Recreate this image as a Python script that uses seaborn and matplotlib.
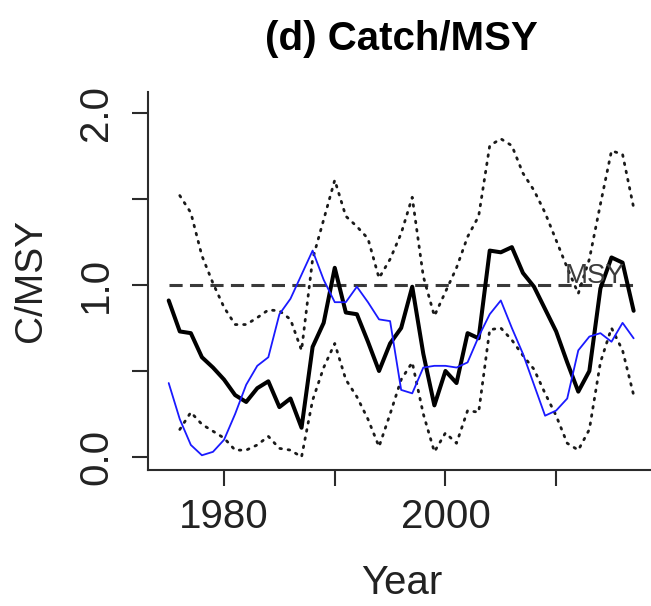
import numpy as np
import pandas as pd
import matplotlib
matplotlib.use("Agg")
import matplotlib.pyplot as plt
import seaborn as sns

# ---- data -------------------------------------------------------------
years = list(range(1975, 2018))
ci_years = list(range(1976, 2018))

# median catch / MSY (thick black)
catch_msy = [0.91, 0.73, 0.72, 0.58, 0.52, 0.45, 0.36, 0.32, 0.40, 0.44,
             0.29, 0.34, 0.17, 0.64, 0.78, 1.10, 0.84, 0.83, 0.67, 0.50,
             0.66, 0.75, 0.99, 0.60, 0.30, 0.50, 0.43, 0.72, 0.69, 1.20,
             1.19, 1.22, 1.07, 0.99, 0.86, 0.73, 0.55, 0.38, 0.50, 0.98,
             1.16, 1.13, 0.85]

# alternative estimate (blue)
catch_msy_alt = [0.43, 0.22, 0.07, 0.01, 0.03, 0.10, 0.25, 0.42, 0.53, 0.58,
                 0.83, 0.92, 1.06, 1.20, 1.03, 0.90, 0.90, 0.99, 0.90, 0.80,
                 0.79, 0.39, 0.37, 0.52, 0.53, 0.53, 0.52, 0.55, 0.70, 0.83,
                 0.91, 0.75, 0.60, 0.42, 0.24, 0.27, 0.34, 0.62, 0.70, 0.72,
                 0.67, 0.78, 0.69]

# confidence bounds (dotted)
ci_upper = [1.52, 1.42, 1.17, 1.01, 0.87, 0.77, 0.77, 0.81, 0.855, 0.85,
            0.80, 0.62, 1.15, 1.38, 1.61, 1.40, 1.34, 1.27, 1.04, 1.15,
            1.30, 1.51, 1.05, 0.82, 0.96, 1.10, 1.28, 1.40, 1.81, 1.85,
            1.81, 1.65, 1.55, 1.42, 1.26, 1.10, 0.95, 1.15, 1.47, 1.78,
            1.76, 1.45]
ci_lower = [0.16, 0.26, 0.19, 0.15, 0.11, 0.04, 0.04, 0.07, 0.12, 0.05,
            0.04, 0.00, 0.33, 0.52, 0.66, 0.45, 0.35, 0.22, 0.06, 0.25,
            0.45, 0.55, 0.25, 0.03, 0.14, 0.08, 0.27, 0.26, 0.74, 0.75,
            0.68, 0.59, 0.51, 0.37, 0.24, 0.08, 0.04, 0.16, 0.55, 0.75,
            0.62, 0.36]

msy_level = 1.0
msy_line = [msy_level] * len(years)

y_ticks = [0.0, 0.5, 1.0, 1.5, 2.0]
y_ticklabels = ["0.0", "", "1.0", "", "2.0"]
x_ticks = [1980, 1990, 2000, 2010]
x_ticklabels = ["1980", "", "2000", ""]

# ---- style ------------------------------------------------------------
sns.set_style("ticks")
plt.rcParams["font.family"] = ["Liberation Sans", "DejaVu Sans"]

DPI = 100
W, H = 651, 606
fig = plt.figure(figsize=(W / DPI, H / DPI), dpi=DPI)
fig.patch.set_facecolor("white")

# plot region in pixels: left 148, right 655, top 92, bottom 470
L, R, T, B = 148, 655, 92, 470
ax = fig.add_axes([L / W, (H - B) / H, (R - L) / W, (B - T) / H])
ax.set_facecolor("white")

ink = "#2b2b2b"

# MSY reference
sns.lineplot(x=years, y=msy_line, ax=ax, color="#3a3a3a", linewidth=2.2)
ax.lines[-1].set_dashes((4.3, 2.4))

# median
sns.lineplot(x=years, y=catch_msy, ax=ax, color="black", linewidth=2.9)

# bounds
for bound in (ci_upper, ci_lower):
    sns.lineplot(x=ci_years, y=bound, ax=ax, color="#1a1a1a", linewidth=2.0)
    ln = ax.lines[-1]
    ln.set_dashes((0.6, 2.4))
    ln.set_dash_capstyle("round")

# alternative series
sns.lineplot(x=years, y=catch_msy_alt, ax=ax, color="#1a1aff", linewidth=1.3)

ax.text(2013.5, 1.01, "MSY", fontsize=20, color="#3c3c3c",
        ha="center", va="baseline")

# ---- axes -------------------------------------------------------------
ax.set_xlim(1973.13, 2018.93)
ax.set_ylim(-0.0756, 2.122)

ax.set_xticks(x_ticks)
ax.set_xticklabels(x_ticklabels)
ax.set_yticks(y_ticks)
ax.set_yticklabels(y_ticklabels)

for side in ("top", "right"):
    ax.spines[side].set_visible(False)
for side in ("left", "bottom"):
    ax.spines[side].set_color(ink)
    ax.spines[side].set_linewidth(1.5)

ax.tick_params(axis="both", direction="out", length=11.5, width=1.5,
               color=ink, labelsize=29, labelcolor="#222222")
ax.tick_params(axis="x", pad=9)
ax.tick_params(axis="y", pad=12, labelrotation=90)
for lab in ax.get_yticklabels():
    lab.set_verticalalignment("center")

ax.set_xlabel("Year", fontsize=29, color="#222222")
ax.xaxis.set_label_coords(0.5, -0.25)
ax.set_ylabel("C/MSY", fontsize=28, color="#222222")
ax.yaxis.set_label_coords(-0.195, 0.5)

ax.set_title("(d) Catch/MSY", fontsize=29, fontweight="bold",
             color="black", pad=30)

fig.savefig("out.png", dpi=DPI, facecolor="white")
